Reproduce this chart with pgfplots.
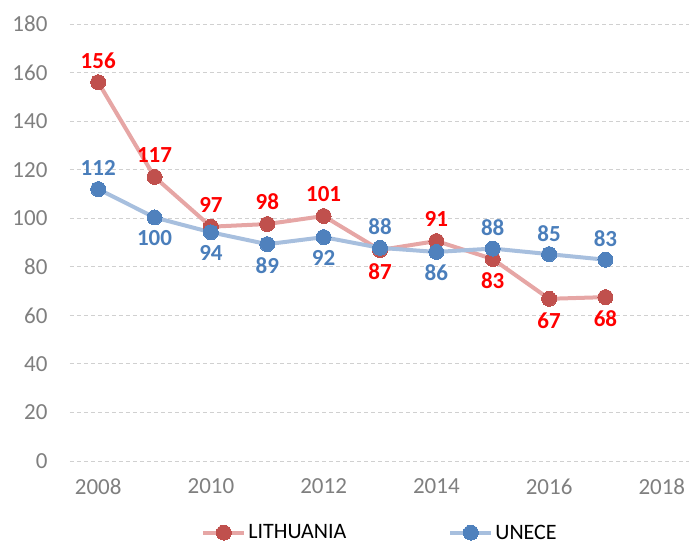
\documentclass[border=0pt]{standalone}
\usepackage{fontspec}
\setmainfont{Carlito}
\usepackage{pgfplots}
\usepackage{pgfplotstable}
\pgfplotsset{compat=1.18}
\definecolor{litline}{HTML}{E6A6A5}
\definecolor{litmark}{HTML}{C0504D}
\definecolor{unline}{HTML}{A7BFDE}
\definecolor{unmark}{HTML}{4F81BD}
\definecolor{unlab}{HTML}{4A7EBB}
\definecolor{tickgray}{HTML}{7F7F7F}
\definecolor{gridgray}{HTML}{D0D0D0}
\pgfplotstableread{
x y lab p
2008 156 156 1
2009 117 117 1
2010 96.5 97 1
2011 97.6 98 1
2012 100.9 101 1
2013 86.9 87 -1
2014 90.6 91 1
2015 83.2 83 -1
2016 66.8 67 -1
2017 67.5 68 -1
}\lit
\pgfplotstableread{
x y lab p
2008 112 112 1
2009 100.3 100 -1
2010 94.2 94 -1
2011 89.3 89 -1
2012 92.2 92 -1
2013 87.8 88 1
2014 86.1 86 -1
2015 87.5 88 1
2016 85.2 85 1
2017 82.9 83 1
}\une
\begin{document}
\begin{tikzpicture}[x=1pt,y=1pt]
\begin{axis}[
  at={(70pt,84pt)}, anchor=south west,
  scale only axis, width=620pt, height=437pt,
  xmin=2007.5, xmax=2018.5, ymin=0, ymax=180,
  xtick={2008,2010,...,2018}, ytick={0,20,...,180},
  axis line style={draw=none}, major tick length=0pt,
  ymajorgrids, grid style={gridgray, dash pattern=on 4pt off 3pt, line width=0.9pt},
  /pgf/number format/assume math mode=true,
  /pgf/number format/1000 sep={},
  ticklabel style={font=\fontsize{23}{24}\selectfont, text=tickgray},
  yticklabel style={anchor=east, xshift=-19pt},
  xticklabel style={anchor=north, yshift=-14pt},
  clip=false,
  legend columns=2,
  legend style={draw=none, fill=none, at={(axis description cs:0.5,-0.164)}, anchor=center,
    font=\fontsize{22}{24}\selectfont, /tikz/every even column/.append style={column sep=100pt}},
  legend image code/.code={\draw[#1, mark indices={2}] plot coordinates {(0pt,0pt) (20.5pt,0pt) (41pt,0pt)};},
  visualization depends on={\thisrow{p} \as \pos},
  nodes near coords, point meta=explicit symbolic,
]
\addplot[color=litline, line width=4pt, mark=*, mark size=7.5pt,
  mark options={fill=litmark, draw=litmark, line width=0pt},
  every node near coord/.append style={anchor=center, yshift={\pos*22pt}, text=red,
    font=\fontsize{23}{24}\selectfont\bfseries}]
  table[x=x, y=y, meta=lab] {\lit};
\addlegendentry{LITHUANIA}
\addplot[color=unline, line width=4pt, mark=*, mark size=7.5pt,
  mark options={fill=unmark, draw=unmark, line width=0pt},
  every node near coord/.append style={anchor=center, yshift={\pos*21pt}, text=unlab,
    font=\fontsize{23}{24}\selectfont\bfseries}]
  table[x=x, y=y, meta=lab] {\une};
\addlegendentry{UNECE}
\end{axis}
\pgfresetboundingbox
\path[use as bounding box] (0,0) rectangle (689,545);
\end{tikzpicture}
\end{document}
